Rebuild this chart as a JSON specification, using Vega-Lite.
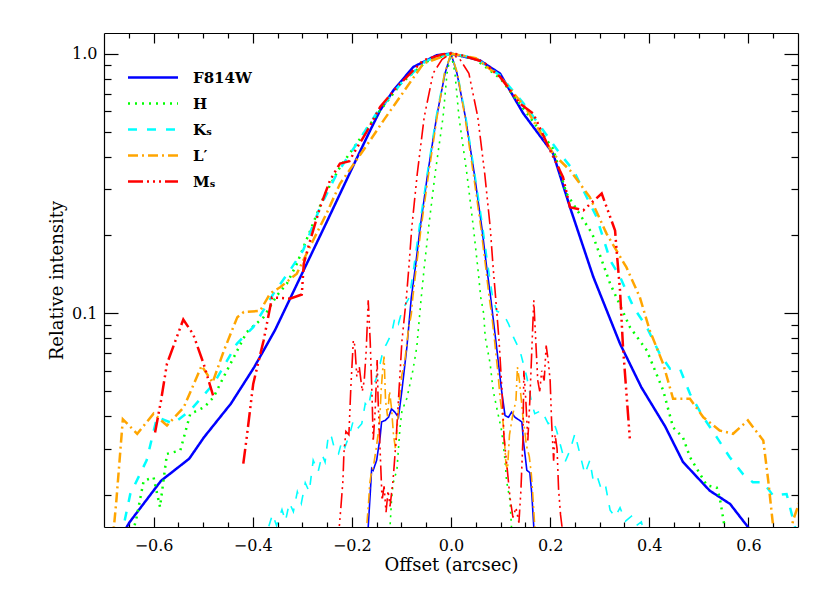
{
  "$schema": "https://vega.github.io/schema/vega-lite/v6.json",
  "width": 694,
  "height": 494,
  "autosize": {"type": "none"},
  "padding": {"left": 104, "top": 33, "right": 32, "bottom": 66},
  "background": "white",
  "config": {
    "view": {"stroke": null},
    "axis": {"grid": false, "zindex": 1, "domainColor": "black", "tickColor": "black", "labelColor": "black", "titleColor": "black", "domainWidth": 1.2, "tickWidth": 1.2, "labelFont": "DejaVu Serif", "labelFontSize": 16, "titleFont": "DejaVu Serif", "titleFontSize": 18, "titleFontWeight": "normal", "labelFlush": false, "labelOverlap": false}
  },
  "datasets": {
    "psf": [
      {"f":"F814W","k":"b","s":"Fb","x":-0.665,"v":0.0138},{"f":"F814W","k":"b","s":"Fb","x":-0.649,"v":0.0156},{"f":"F814W","k":"b","s":"Fb","x":-0.585,"v":0.0226},{"f":"F814W","k":"b","s":"Fb","x":-0.528,"v":0.0275},{"f":"F814W","k":"b","s":"Fb","x":-0.498,"v":0.0333},{"f":"F814W","k":"b","s":"Fb","x":-0.444,"v":0.0448},{"f":"F814W","k":"b","s":"Fb","x":-0.397,"v":0.0619},{"f":"F814W","k":"b","s":"Fb","x":-0.355,"v":0.086},{"f":"F814W","k":"b","s":"Fb","x":-0.291,"v":0.155},{"f":"F814W","k":"b","s":"Fb","x":-0.249,"v":0.228},{"f":"F814W","k":"b","s":"Fb","x":-0.192,"v":0.388},{"f":"F814W","k":"b","s":"Fb","x":-0.163,"v":0.506},{"f":"F814W","k":"b","s":"Fb","x":-0.143,"v":0.604},{"f":"F814W","k":"b","s":"Fb","x":-0.116,"v":0.722},{"f":"F814W","k":"b","s":"Fb","x":-0.076,"v":0.888},{"f":"F814W","k":"b","s":"Fb","x":-0.029,"v":0.985},{"f":"F814W","k":"b","s":"Fb","x":0,"v":1},{"f":"F814W","k":"b","s":"Fb","x":0.058,"v":0.942},{"f":"F814W","k":"b","s":"Fb","x":0.099,"v":0.837},{"f":"F814W","k":"b","s":"Fb","x":0.146,"v":0.587},{"f":"F814W","k":"b","s":"Fb","x":0.206,"v":0.412},{"f":"F814W","k":"b","s":"Fb","x":0.24,"v":0.256},{"f":"F814W","k":"b","s":"Fb","x":0.287,"v":0.138},{"f":"F814W","k":"b","s":"Fb","x":0.341,"v":0.0762},{"f":"F814W","k":"b","s":"Fb","x":0.384,"v":0.0518},{"f":"F814W","k":"b","s":"Fb","x":0.432,"v":0.0366},{"f":"F814W","k":"b","s":"Fb","x":0.468,"v":0.0267},{"f":"F814W","k":"b","s":"Fb","x":0.522,"v":0.0207},{"f":"F814W","k":"b","s":"Fb","x":0.563,"v":0.0184},{"f":"F814W","k":"b","s":"Fb","x":0.599,"v":0.015},{"f":"F814W","k":"b","s":"Fb","x":0.615,"v":0.0135},

      {"f":"F814W","k":"n","s":"Fn","x":-0.171,"v":0.011},{"f":"F814W","k":"n","s":"Fn","x":-0.167,"v":0.015},{"f":"F814W","k":"n","s":"Fn","x":-0.163,"v":0.0201},{"f":"F814W","k":"n","s":"Fn","x":-0.16,"v":0.0252},{"f":"F814W","k":"n","s":"Fn","x":-0.157,"v":0.0248},{"f":"F814W","k":"n","s":"Fn","x":-0.15,"v":0.0271},{"f":"F814W","k":"n","s":"Fn","x":-0.143,"v":0.0333},{"f":"F814W","k":"n","s":"Fn","x":-0.14,"v":0.0381},{"f":"F814W","k":"n","s":"Fn","x":-0.133,"v":0.0386},{"f":"F814W","k":"n","s":"Fn","x":-0.126,"v":0.0397},{"f":"F814W","k":"n","s":"Fn","x":-0.12,"v":0.0428},{"f":"F814W","k":"n","s":"Fn","x":-0.113,"v":0.0415},{"f":"F814W","k":"n","s":"Fn","x":-0.106,"v":0.0397},{"f":"F814W","k":"n","s":"Fn","x":-0.099,"v":0.0504},{"f":"F814W","k":"n","s":"Fn","x":-0.089,"v":0.0739},{"f":"F814W","k":"n","s":"Fn","x":-0.08,"v":0.115},{"f":"F814W","k":"n","s":"Fn","x":-0.072,"v":0.15},{"f":"F814W","k":"n","s":"Fn","x":-0.062,"v":0.215},{"f":"F814W","k":"n","s":"Fn","x":-0.047,"v":0.345},{"f":"F814W","k":"n","s":"Fn","x":-0.029,"v":0.57},{"f":"F814W","k":"n","s":"Fn","x":-0.012,"v":0.84},{"f":"F814W","k":"n","s":"Fn","x":0,"v":1},{"f":"F814W","k":"n","s":"Fn","x":0.012,"v":0.84},{"f":"F814W","k":"n","s":"Fn","x":0.029,"v":0.57},{"f":"F814W","k":"n","s":"Fn","x":0.047,"v":0.345},{"f":"F814W","k":"n","s":"Fn","x":0.062,"v":0.215},{"f":"F814W","k":"n","s":"Fn","x":0.072,"v":0.15},{"f":"F814W","k":"n","s":"Fn","x":0.08,"v":0.115},{"f":"F814W","k":"n","s":"Fn","x":0.092,"v":0.0739},{"f":"F814W","k":"n","s":"Fn","x":0.102,"v":0.0504},{"f":"F814W","k":"n","s":"Fn","x":0.109,"v":0.0403},{"f":"F814W","k":"n","s":"Fn","x":0.116,"v":0.0397},{"f":"F814W","k":"n","s":"Fn","x":0.122,"v":0.0415},{"f":"F814W","k":"n","s":"Fn","x":0.129,"v":0.0397},{"f":"F814W","k":"n","s":"Fn","x":0.143,"v":0.0381},{"f":"F814W","k":"n","s":"Fn","x":0.146,"v":0.0323},{"f":"F814W","k":"n","s":"Fn","x":0.153,"v":0.0248},{"f":"F814W","k":"n","s":"Fn","x":0.159,"v":0.0243},{"f":"F814W","k":"n","s":"Fn","x":0.163,"v":0.0201},{"f":"F814W","k":"n","s":"Fn","x":0.167,"v":0.015},{"f":"F814W","k":"n","s":"Fn","x":0.172,"v":0.011},

      {"f":"H","k":"b","s":"Hb","x":-0.645,"v":0.0135},{"f":"H","k":"b","s":"Hb","x":-0.634,"v":0.0164},{"f":"H","k":"b","s":"Hb","x":-0.62,"v":0.0226},{"f":"H","k":"b","s":"Hb","x":-0.6,"v":0.0233},{"f":"H","k":"b","s":"Hb","x":-0.587,"v":0.0179},{"f":"H","k":"b","s":"Hb","x":-0.573,"v":0.0287},{"f":"H","k":"b","s":"Hb","x":-0.546,"v":0.0296},{"f":"H","k":"b","s":"Hb","x":-0.526,"v":0.0409},{"f":"H","k":"b","s":"Hb","x":-0.498,"v":0.0434},{"f":"H","k":"b","s":"Hb","x":-0.479,"v":0.0474},{"f":"H","k":"b","s":"Hb","x":-0.459,"v":0.0566},{"f":"H","k":"b","s":"Hb","x":-0.412,"v":0.0845},{"f":"H","k":"b","s":"Hb","x":-0.378,"v":0.0965},{"f":"H","k":"b","s":"Hb","x":-0.351,"v":0.117},{"f":"H","k":"b","s":"Hb","x":-0.331,"v":0.13},{"f":"H","k":"b","s":"Hb","x":-0.311,"v":0.155},{"f":"H","k":"b","s":"Hb","x":-0.284,"v":0.208},{"f":"H","k":"b","s":"Hb","x":-0.257,"v":0.28},{"f":"H","k":"b","s":"Hb","x":-0.224,"v":0.365},{"f":"H","k":"b","s":"Hb","x":-0.18,"v":0.48},{"f":"H","k":"b","s":"Hb","x":-0.15,"v":0.58},{"f":"H","k":"b","s":"Hb","x":-0.1,"v":0.77},{"f":"H","k":"b","s":"Hb","x":-0.05,"v":0.93},{"f":"H","k":"b","s":"Hb","x":0,"v":1},{"f":"H","k":"b","s":"Hb","x":0.05,"v":0.95},{"f":"H","k":"b","s":"Hb","x":0.1,"v":0.8},{"f":"H","k":"b","s":"Hb","x":0.15,"v":0.6},{"f":"H","k":"b","s":"Hb","x":0.206,"v":0.43},{"f":"H","k":"b","s":"Hb","x":0.233,"v":0.289},{"f":"H","k":"b","s":"Hb","x":0.285,"v":0.202},{"f":"H","k":"b","s":"Hb","x":0.321,"v":0.13},{"f":"H","k":"b","s":"Hb","x":0.361,"v":0.0883},{"f":"H","k":"b","s":"Hb","x":0.395,"v":0.0718},{"f":"H","k":"b","s":"Hb","x":0.428,"v":0.0504},{"f":"H","k":"b","s":"Hb","x":0.448,"v":0.0363},{"f":"H","k":"b","s":"Hb","x":0.468,"v":0.0332},{"f":"H","k":"b","s":"Hb","x":0.482,"v":0.0279},{"f":"H","k":"b","s":"Hb","x":0.516,"v":0.0217},{"f":"H","k":"b","s":"Hb","x":0.536,"v":0.0213},{"f":"H","k":"b","s":"Hb","x":0.542,"v":0.0195},{"f":"H","k":"b","s":"Hb","x":0.552,"v":0.015},{"f":"H","k":"b","s":"Hb","x":0.56,"v":0.012},

      {"f":"H","k":"n","s":"Hn","x":-0.127,"v":0.012},{"f":"H","k":"n","s":"Hn","x":-0.123,"v":0.015},{"f":"H","k":"n","s":"Hn","x":-0.12,"v":0.019},{"f":"H","k":"n","s":"Hn","x":-0.117,"v":0.022},{"f":"H","k":"n","s":"Hn","x":-0.109,"v":0.025},{"f":"H","k":"n","s":"Hn","x":-0.103,"v":0.036},{"f":"H","k":"n","s":"Hn","x":-0.099,"v":0.042},{"f":"H","k":"n","s":"Hn","x":-0.089,"v":0.047},{"f":"H","k":"n","s":"Hn","x":-0.083,"v":0.053},{"f":"H","k":"n","s":"Hn","x":-0.077,"v":0.06},{"f":"H","k":"n","s":"Hn","x":-0.069,"v":0.074},{"f":"H","k":"n","s":"Hn","x":-0.066,"v":0.086},{"f":"H","k":"n","s":"Hn","x":-0.06,"v":0.115},{"f":"H","k":"n","s":"Hn","x":-0.054,"v":0.15},{"f":"H","k":"n","s":"Hn","x":-0.045,"v":0.215},{"f":"H","k":"n","s":"Hn","x":-0.032,"v":0.345},{"f":"H","k":"n","s":"Hn","x":-0.016,"v":0.57},{"f":"H","k":"n","s":"Hn","x":-0.008,"v":0.84},{"f":"H","k":"n","s":"Hn","x":0,"v":1},{"f":"H","k":"n","s":"Hn","x":0.008,"v":0.84},{"f":"H","k":"n","s":"Hn","x":0.016,"v":0.57},{"f":"H","k":"n","s":"Hn","x":0.032,"v":0.345},{"f":"H","k":"n","s":"Hn","x":0.045,"v":0.215},{"f":"H","k":"n","s":"Hn","x":0.054,"v":0.15},{"f":"H","k":"n","s":"Hn","x":0.06,"v":0.115},{"f":"H","k":"n","s":"Hn","x":0.066,"v":0.0994},{"f":"H","k":"n","s":"Hn","x":0.069,"v":0.0808},{"f":"H","k":"n","s":"Hn","x":0.079,"v":0.0638},{"f":"H","k":"n","s":"Hn","x":0.085,"v":0.0504},{"f":"H","k":"n","s":"Hn","x":0.092,"v":0.0434},{"f":"H","k":"n","s":"Hn","x":0.102,"v":0.0353},{"f":"H","k":"n","s":"Hn","x":0.109,"v":0.0271},{"f":"H","k":"n","s":"Hn","x":0.112,"v":0.0226},{"f":"H","k":"n","s":"Hn","x":0.119,"v":0.019},{"f":"H","k":"n","s":"Hn","x":0.122,"v":0.015},{"f":"H","k":"n","s":"Hn","x":0.126,"v":0.012},

      {"f":"Kₛ","k":"b","s":"Kb","x":-0.668,"v":0.0135},{"f":"Kₛ","k":"b","s":"Kb","x":-0.661,"v":0.015},{"f":"Kₛ","k":"b","s":"Kb","x":-0.647,"v":0.0201},{"f":"Kₛ","k":"b","s":"Kb","x":-0.614,"v":0.0271},{"f":"Kₛ","k":"b","s":"Kb","x":-0.593,"v":0.0398},{"f":"Kₛ","k":"b","s":"Kb","x":-0.56,"v":0.0375},{"f":"Kₛ","k":"b","s":"Kb","x":-0.526,"v":0.0422},{"f":"Kₛ","k":"b","s":"Kb","x":-0.479,"v":0.0534},{"f":"Kₛ","k":"b","s":"Kb","x":-0.432,"v":0.0762},{"f":"Kₛ","k":"b","s":"Kb","x":-0.399,"v":0.0883},{"f":"Kₛ","k":"b","s":"Kb","x":-0.358,"v":0.119},{"f":"Kₛ","k":"b","s":"Kb","x":-0.325,"v":0.146},{"f":"Kₛ","k":"b","s":"Kb","x":-0.298,"v":0.175},{"f":"Kₛ","k":"b","s":"Kb","x":-0.264,"v":0.256},{"f":"Kₛ","k":"b","s":"Kb","x":-0.23,"v":0.345},{"f":"Kₛ","k":"b","s":"Kb","x":-0.19,"v":0.45},{"f":"Kₛ","k":"b","s":"Kb","x":-0.15,"v":0.59},{"f":"Kₛ","k":"b","s":"Kb","x":-0.1,"v":0.77},{"f":"Kₛ","k":"b","s":"Kb","x":-0.05,"v":0.94},{"f":"Kₛ","k":"b","s":"Kb","x":0,"v":1},{"f":"Kₛ","k":"b","s":"Kb","x":0.05,"v":0.96},{"f":"Kₛ","k":"b","s":"Kb","x":0.1,"v":0.82},{"f":"Kₛ","k":"b","s":"Kb","x":0.15,"v":0.63},{"f":"Kₛ","k":"b","s":"Kb","x":0.22,"v":0.411},{"f":"Kₛ","k":"b","s":"Kb","x":0.247,"v":0.355},{"f":"Kₛ","k":"b","s":"Kb","x":0.267,"v":0.297},{"f":"Kₛ","k":"b","s":"Kb","x":0.294,"v":0.234},{"f":"Kₛ","k":"b","s":"Kb","x":0.321,"v":0.16},{"f":"Kₛ","k":"b","s":"Kb","x":0.341,"v":0.138},{"f":"Kₛ","k":"b","s":"Kb","x":0.368,"v":0.1055},{"f":"Kₛ","k":"b","s":"Kb","x":0.395,"v":0.0883},{"f":"Kₛ","k":"b","s":"Kb","x":0.421,"v":0.0697},{"f":"Kₛ","k":"b","s":"Kb","x":0.442,"v":0.061},{"f":"Kₛ","k":"b","s":"Kb","x":0.462,"v":0.061},{"f":"Kₛ","k":"b","s":"Kb","x":0.482,"v":0.0489},{"f":"Kₛ","k":"b","s":"Kb","x":0.509,"v":0.0397},{"f":"Kₛ","k":"b","s":"Kb","x":0.536,"v":0.0333},{"f":"Kₛ","k":"b","s":"Kb","x":0.562,"v":0.0279},{"f":"Kₛ","k":"b","s":"Kb","x":0.589,"v":0.024},{"f":"Kₛ","k":"b","s":"Kb","x":0.609,"v":0.0223},{"f":"Kₛ","k":"b","s":"Kb","x":0.63,"v":0.0223},{"f":"Kₛ","k":"b","s":"Kb","x":0.65,"v":0.0198},{"f":"Kₛ","k":"b","s":"Kb","x":0.677,"v":0.0201},{"f":"Kₛ","k":"b","s":"Kb","x":0.694,"v":0.015},{"f":"Kₛ","k":"b","s":"Kb","x":0.705,"v":0.0125},

      {"f":"Kₛ","k":"n","s":"Kn","x":-0.385,"v":0.013},{"f":"Kₛ","k":"n","s":"Kn","x":-0.368,"v":0.015},{"f":"Kₛ","k":"n","s":"Kn","x":-0.36,"v":0.0168},{"f":"Kₛ","k":"n","s":"Kn","x":-0.352,"v":0.0152},{"f":"Kₛ","k":"n","s":"Kn","x":-0.341,"v":0.0175},{"f":"Kₛ","k":"n","s":"Kn","x":-0.334,"v":0.0158},{"f":"Kₛ","k":"n","s":"Kn","x":-0.326,"v":0.0186},{"f":"Kₛ","k":"n","s":"Kn","x":-0.318,"v":0.0172},{"f":"Kₛ","k":"n","s":"Kn","x":-0.31,"v":0.0205},{"f":"Kₛ","k":"n","s":"Kn","x":-0.302,"v":0.0185},{"f":"Kₛ","k":"n","s":"Kn","x":-0.294,"v":0.0222},{"f":"Kₛ","k":"n","s":"Kn","x":-0.286,"v":0.0205},{"f":"Kₛ","k":"n","s":"Kn","x":-0.278,"v":0.0271},{"f":"Kₛ","k":"n","s":"Kn","x":-0.268,"v":0.0245},{"f":"Kₛ","k":"n","s":"Kn","x":-0.26,"v":0.0285},{"f":"Kₛ","k":"n","s":"Kn","x":-0.254,"v":0.0267},{"f":"Kₛ","k":"n","s":"Kn","x":-0.247,"v":0.0343},{"f":"Kₛ","k":"n","s":"Kn","x":-0.241,"v":0.0333},{"f":"Kₛ","k":"n","s":"Kn","x":-0.234,"v":0.0295},{"f":"Kₛ","k":"n","s":"Kn","x":-0.227,"v":0.0287},{"f":"Kₛ","k":"n","s":"Kn","x":-0.22,"v":0.0322},{"f":"Kₛ","k":"n","s":"Kn","x":-0.214,"v":0.0304},{"f":"Kₛ","k":"n","s":"Kn","x":-0.204,"v":0.0343},{"f":"Kₛ","k":"n","s":"Kn","x":-0.197,"v":0.0386},{"f":"Kₛ","k":"n","s":"Kn","x":-0.187,"v":0.0362},{"f":"Kₛ","k":"n","s":"Kn","x":-0.18,"v":0.0375},{"f":"Kₛ","k":"n","s":"Kn","x":-0.173,"v":0.0448},{"f":"Kₛ","k":"n","s":"Kn","x":-0.167,"v":0.0434},{"f":"Kₛ","k":"n","s":"Kn","x":-0.16,"v":0.0504},{"f":"Kₛ","k":"n","s":"Kn","x":-0.15,"v":0.0566},{"f":"Kₛ","k":"n","s":"Kn","x":-0.143,"v":0.0638},{"f":"Kₛ","k":"n","s":"Kn","x":-0.137,"v":0.0718},{"f":"Kₛ","k":"n","s":"Kn","x":-0.13,"v":0.0762},{"f":"Kₛ","k":"n","s":"Kn","x":-0.12,"v":0.0833},{"f":"Kₛ","k":"n","s":"Kn","x":-0.113,"v":0.0965},{"f":"Kₛ","k":"n","s":"Kn","x":-0.106,"v":0.091},{"f":"Kₛ","k":"n","s":"Kn","x":-0.099,"v":0.102},{"f":"Kₛ","k":"n","s":"Kn","x":-0.084,"v":0.115},{"f":"Kₛ","k":"n","s":"Kn","x":-0.075,"v":0.15},{"f":"Kₛ","k":"n","s":"Kn","x":-0.064,"v":0.215},{"f":"Kₛ","k":"n","s":"Kn","x":-0.048,"v":0.345},{"f":"Kₛ","k":"n","s":"Kn","x":-0.03,"v":0.57},{"f":"Kₛ","k":"n","s":"Kn","x":-0.013,"v":0.84},{"f":"Kₛ","k":"n","s":"Kn","x":0,"v":1},{"f":"Kₛ","k":"n","s":"Kn","x":0.013,"v":0.84},{"f":"Kₛ","k":"n","s":"Kn","x":0.03,"v":0.57},{"f":"Kₛ","k":"n","s":"Kn","x":0.048,"v":0.345},{"f":"Kₛ","k":"n","s":"Kn","x":0.064,"v":0.215},{"f":"Kₛ","k":"n","s":"Kn","x":0.075,"v":0.15},{"f":"Kₛ","k":"n","s":"Kn","x":0.084,"v":0.115},{"f":"Kₛ","k":"n","s":"Kn","x":0.092,"v":0.102},{"f":"Kₛ","k":"n","s":"Kn","x":0.1,"v":0.1},{"f":"Kₛ","k":"n","s":"Kn","x":0.109,"v":0.0965},{"f":"Kₛ","k":"n","s":"Kn","x":0.116,"v":0.091},{"f":"Kₛ","k":"n","s":"Kn","x":0.126,"v":0.0808},{"f":"Kₛ","k":"n","s":"Kn","x":0.139,"v":0.0718},{"f":"Kₛ","k":"n","s":"Kn","x":0.153,"v":0.0566},{"f":"Kₛ","k":"n","s":"Kn","x":0.163,"v":0.0448},{"f":"Kₛ","k":"n","s":"Kn","x":0.169,"v":0.041},{"f":"Kₛ","k":"n","s":"Kn","x":0.183,"v":0.0422},{"f":"Kₛ","k":"n","s":"Kn","x":0.196,"v":0.0375},{"f":"Kₛ","k":"n","s":"Kn","x":0.206,"v":0.0385},{"f":"Kₛ","k":"n","s":"Kn","x":0.213,"v":0.0353},{"f":"Kₛ","k":"n","s":"Kn","x":0.22,"v":0.0314},{"f":"Kₛ","k":"n","s":"Kn","x":0.23,"v":0.0267},{"f":"Kₛ","k":"n","s":"Kn","x":0.24,"v":0.0296},{"f":"Kₛ","k":"n","s":"Kn","x":0.25,"v":0.0343},{"f":"Kₛ","k":"n","s":"Kn","x":0.26,"v":0.0287},{"f":"Kₛ","k":"n","s":"Kn","x":0.27,"v":0.024},{"f":"Kₛ","k":"n","s":"Kn","x":0.28,"v":0.0271},{"f":"Kₛ","k":"n","s":"Kn","x":0.287,"v":0.0226},{"f":"Kₛ","k":"n","s":"Kn","x":0.295,"v":0.0235},{"f":"Kₛ","k":"n","s":"Kn","x":0.304,"v":0.0207},{"f":"Kₛ","k":"n","s":"Kn","x":0.312,"v":0.0215},{"f":"Kₛ","k":"n","s":"Kn","x":0.321,"v":0.0174},{"f":"Kₛ","k":"n","s":"Kn","x":0.331,"v":0.0164},{"f":"Kₛ","k":"n","s":"Kn","x":0.341,"v":0.0178},{"f":"Kₛ","k":"n","s":"Kn","x":0.352,"v":0.0158},{"f":"Kₛ","k":"n","s":"Kn","x":0.364,"v":0.0165},{"f":"Kₛ","k":"n","s":"Kn","x":0.374,"v":0.0152},{"f":"Kₛ","k":"n","s":"Kn","x":0.384,"v":0.0157},{"f":"Kₛ","k":"n","s":"Kn","x":0.4,"v":0.012},

      {"f":"L′","k":"b","s":"Lb","x":-0.69,"v":0.011},{"f":"L′","k":"b","s":"Lb","x":-0.68,"v":0.015},{"f":"L′","k":"b","s":"Lb","x":-0.675,"v":0.019},{"f":"L′","k":"b","s":"Lb","x":-0.662,"v":0.039},{"f":"L′","k":"b","s":"Lb","x":-0.633,"v":0.0343},{"f":"L′","k":"b","s":"Lb","x":-0.6,"v":0.041},{"f":"L′","k":"b","s":"Lb","x":-0.573,"v":0.0369},{"f":"L′","k":"b","s":"Lb","x":-0.539,"v":0.0434},{"f":"L′","k":"b","s":"Lb","x":-0.503,"v":0.0627},{"f":"L′","k":"b","s":"Lb","x":-0.481,"v":0.054},{"f":"L′","k":"b","s":"Lb","x":-0.458,"v":0.0718},{"f":"L′","k":"b","s":"Lb","x":-0.431,"v":0.0965},{"f":"L′","k":"b","s":"Lb","x":-0.418,"v":0.101},{"f":"L′","k":"b","s":"Lb","x":-0.385,"v":0.102},{"f":"L′","k":"b","s":"Lb","x":-0.365,"v":0.119},{"f":"L′","k":"b","s":"Lb","x":-0.344,"v":0.126},{"f":"L′","k":"b","s":"Lb","x":-0.311,"v":0.142},{"f":"L′","k":"b","s":"Lb","x":-0.278,"v":0.191},{"f":"L′","k":"b","s":"Lb","x":-0.251,"v":0.242},{"f":"L′","k":"b","s":"Lb","x":-0.224,"v":0.315},{"f":"L′","k":"b","s":"Lb","x":-0.163,"v":0.463},{"f":"L′","k":"b","s":"Lb","x":-0.136,"v":0.553},{"f":"L′","k":"b","s":"Lb","x":-0.103,"v":0.68},{"f":"L′","k":"b","s":"Lb","x":-0.056,"v":0.915},{"f":"L′","k":"b","s":"Lb","x":0,"v":1},{"f":"L′","k":"b","s":"Lb","x":0.05,"v":0.96},{"f":"L′","k":"b","s":"Lb","x":0.1,"v":0.81},{"f":"L′","k":"b","s":"Lb","x":0.15,"v":0.62},{"f":"L′","k":"b","s":"Lb","x":0.206,"v":0.411},{"f":"L′","k":"b","s":"Lb","x":0.24,"v":0.355},{"f":"L′","k":"b","s":"Lb","x":0.28,"v":0.28},{"f":"L′","k":"b","s":"Lb","x":0.314,"v":0.202},{"f":"L′","k":"b","s":"Lb","x":0.354,"v":0.15},{"f":"L′","k":"b","s":"Lb","x":0.381,"v":0.115},{"f":"L′","k":"b","s":"Lb","x":0.401,"v":0.0857},{"f":"L′","k":"b","s":"Lb","x":0.428,"v":0.0638},{"f":"L′","k":"b","s":"Lb","x":0.448,"v":0.0468},{"f":"L′","k":"b","s":"Lb","x":0.482,"v":0.0468},{"f":"L′","k":"b","s":"Lb","x":0.509,"v":0.0397},{"f":"L′","k":"b","s":"Lb","x":0.542,"v":0.0353},{"f":"L′","k":"b","s":"Lb","x":0.569,"v":0.0343},{"f":"L′","k":"b","s":"Lb","x":0.599,"v":0.0386},{"f":"L′","k":"b","s":"Lb","x":0.63,"v":0.0323},{"f":"L′","k":"b","s":"Lb","x":0.64,"v":0.0226},{"f":"L′","k":"b","s":"Lb","x":0.65,"v":0.015},{"f":"L′","k":"b","s":"Lb","x":0.668,"v":0.009},{"f":"L′","k":"b","s":"Lb","x":0.69,"v":0.0159},{"f":"L′","k":"b","s":"Lb","x":0.712,"v":0.021},

      {"f":"L′","k":"n","s":"Ln","x":-0.172,"v":0.013},{"f":"L′","k":"n","s":"Ln","x":-0.169,"v":0.016},{"f":"L′","k":"n","s":"Ln","x":-0.166,"v":0.019},{"f":"L′","k":"n","s":"Ln","x":-0.164,"v":0.022},{"f":"L′","k":"n","s":"Ln","x":-0.161,"v":0.024},{"f":"L′","k":"n","s":"Ln","x":-0.156,"v":0.026},{"f":"L′","k":"n","s":"Ln","x":-0.15,"v":0.031},{"f":"L′","k":"n","s":"Ln","x":-0.144,"v":0.038},{"f":"L′","k":"n","s":"Ln","x":-0.141,"v":0.05},{"f":"L′","k":"n","s":"Ln","x":-0.138,"v":0.06},{"f":"L′","k":"n","s":"Ln","x":-0.135,"v":0.068},{"f":"L′","k":"n","s":"Ln","x":-0.132,"v":0.046},{"f":"L′","k":"n","s":"Ln","x":-0.128,"v":0.04},{"f":"L′","k":"n","s":"Ln","x":-0.124,"v":0.05},{"f":"L′","k":"n","s":"Ln","x":-0.12,"v":0.043},{"f":"L′","k":"n","s":"Ln","x":-0.116,"v":0.034},{"f":"L′","k":"n","s":"Ln","x":-0.112,"v":0.03},{"f":"L′","k":"n","s":"Ln","x":-0.108,"v":0.038},{"f":"L′","k":"n","s":"Ln","x":-0.104,"v":0.047},{"f":"L′","k":"n","s":"Ln","x":-0.099,"v":0.058},{"f":"L′","k":"n","s":"Ln","x":-0.093,"v":0.066},{"f":"L′","k":"n","s":"Ln","x":-0.086,"v":0.086},{"f":"L′","k":"n","s":"Ln","x":-0.08,"v":0.099},{"f":"L′","k":"n","s":"Ln","x":-0.077,"v":0.115},{"f":"L′","k":"n","s":"Ln","x":-0.07,"v":0.15},{"f":"L′","k":"n","s":"Ln","x":-0.06,"v":0.215},{"f":"L′","k":"n","s":"Ln","x":-0.045,"v":0.345},{"f":"L′","k":"n","s":"Ln","x":-0.028,"v":0.57},{"f":"L′","k":"n","s":"Ln","x":-0.013,"v":0.84},{"f":"L′","k":"n","s":"Ln","x":0,"v":1},{"f":"L′","k":"n","s":"Ln","x":0.013,"v":0.84},{"f":"L′","k":"n","s":"Ln","x":0.028,"v":0.57},{"f":"L′","k":"n","s":"Ln","x":0.045,"v":0.345},{"f":"L′","k":"n","s":"Ln","x":0.06,"v":0.215},{"f":"L′","k":"n","s":"Ln","x":0.07,"v":0.15},{"f":"L′","k":"n","s":"Ln","x":0.077,"v":0.115},{"f":"L′","k":"n","s":"Ln","x":0.082,"v":0.099},{"f":"L′","k":"n","s":"Ln","x":0.088,"v":0.078},{"f":"L′","k":"n","s":"Ln","x":0.095,"v":0.058},{"f":"L′","k":"n","s":"Ln","x":0.099,"v":0.047},{"f":"L′","k":"n","s":"Ln","x":0.104,"v":0.04},{"f":"L′","k":"n","s":"Ln","x":0.108,"v":0.032},{"f":"L′","k":"n","s":"Ln","x":0.111,"v":0.026},{"f":"L′","k":"n","s":"Ln","x":0.114,"v":0.025},{"f":"L′","k":"n","s":"Ln","x":0.118,"v":0.034},{"f":"L′","k":"n","s":"Ln","x":0.125,"v":0.041},{"f":"L′","k":"n","s":"Ln","x":0.131,"v":0.046},{"f":"L′","k":"n","s":"Ln","x":0.134,"v":0.062},{"f":"L′","k":"n","s":"Ln","x":0.138,"v":0.055},{"f":"L′","k":"n","s":"Ln","x":0.142,"v":0.046},{"f":"L′","k":"n","s":"Ln","x":0.145,"v":0.04},{"f":"L′","k":"n","s":"Ln","x":0.149,"v":0.035},{"f":"L′","k":"n","s":"Ln","x":0.152,"v":0.031},{"f":"L′","k":"n","s":"Ln","x":0.158,"v":0.028},{"f":"L′","k":"n","s":"Ln","x":0.162,"v":0.024},{"f":"L′","k":"n","s":"Ln","x":0.165,"v":0.02},{"f":"L′","k":"n","s":"Ln","x":0.169,"v":0.015},{"f":"L′","k":"n","s":"Ln","x":0.172,"v":0.013},

      {"f":"Mₛ","k":"b","s":"Mb","x":-0.419,"v":0.0263},{"f":"Mₛ","k":"b","s":"Mb","x":-0.412,"v":0.0333},{"f":"Mₛ","k":"b","s":"Mb","x":-0.399,"v":0.0534},{"f":"Mₛ","k":"b","s":"Mb","x":-0.378,"v":0.0785},{"f":"Mₛ","k":"b","s":"Mb","x":-0.361,"v":0.115},{"f":"Mₛ","k":"b","s":"Mb","x":-0.325,"v":0.1137},{"f":"Mₛ","k":"b","s":"Mb","x":-0.301,"v":0.118},{"f":"Mₛ","k":"b","s":"Mb","x":-0.297,"v":0.155},{"f":"Mₛ","k":"b","s":"Mb","x":-0.284,"v":0.191},{"f":"Mₛ","k":"b","s":"Mb","x":-0.264,"v":0.256},{"f":"Mₛ","k":"b","s":"Mb","x":-0.244,"v":0.325},{"f":"Mₛ","k":"b","s":"Mb","x":-0.224,"v":0.377},{"f":"Mₛ","k":"b","s":"Mb","x":-0.205,"v":0.385},{"f":"Mₛ","k":"b","s":"Mb","x":-0.197,"v":0.411},{"f":"Mₛ","k":"b","s":"Mb","x":-0.17,"v":0.5},{"f":"Mₛ","k":"b","s":"Mb","x":-0.143,"v":0.623},{"f":"Mₛ","k":"b","s":"Mb","x":-0.109,"v":0.743},{"f":"Mₛ","k":"b","s":"Mb","x":-0.056,"v":0.942},{"f":"Mₛ","k":"b","s":"Mb","x":-0.016,"v":0.995},{"f":"Mₛ","k":"b","s":"Mb","x":0,"v":1},{"f":"Mₛ","k":"b","s":"Mb","x":0.018,"v":0.99},{"f":"Mₛ","k":"b","s":"Mb","x":0.065,"v":0.929},{"f":"Mₛ","k":"b","s":"Mb","x":0.099,"v":0.813},{"f":"Mₛ","k":"b","s":"Mb","x":0.139,"v":0.641},{"f":"Mₛ","k":"b","s":"Mb","x":0.166,"v":0.587},{"f":"Mₛ","k":"b","s":"Mb","x":0.2,"v":0.424},{"f":"Mₛ","k":"b","s":"Mb","x":0.226,"v":0.334},{"f":"Mₛ","k":"b","s":"Mb","x":0.24,"v":0.256},{"f":"Mₛ","k":"b","s":"Mb","x":0.267,"v":0.249},{"f":"Mₛ","k":"b","s":"Mb","x":0.304,"v":0.289},{"f":"Mₛ","k":"b","s":"Mb","x":0.314,"v":0.256},{"f":"Mₛ","k":"b","s":"Mb","x":0.331,"v":0.208},{"f":"Mₛ","k":"b","s":"Mb","x":0.334,"v":0.175},{"f":"Mₛ","k":"b","s":"Mb","x":0.341,"v":0.122},{"f":"Mₛ","k":"b","s":"Mb","x":0.347,"v":0.0739},{"f":"Mₛ","k":"b","s":"Mb","x":0.357,"v":0.041},{"f":"Mₛ","k":"b","s":"Mb","x":0.361,"v":0.0323},

      {"f":"Mₛ","k":"b","s":"Mb2","x":-0.597,"v":0.0347},{"f":"Mₛ","k":"b","s":"Mb2","x":-0.585,"v":0.046},{"f":"Mₛ","k":"b","s":"Mb2","x":-0.573,"v":0.0638},{"f":"Mₛ","k":"b","s":"Mb2","x":-0.54,"v":0.0945},{"f":"Mₛ","k":"b","s":"Mb2","x":-0.52,"v":0.0828},{"f":"Mₛ","k":"b","s":"Mb2","x":-0.499,"v":0.0638},{"f":"Mₛ","k":"b","s":"Mb2","x":-0.48,"v":0.0482},

      {"f":"Mₛ","k":"n","s":"Mn","x":-0.23,"v":0.0128},{"f":"Mₛ","k":"n","s":"Mn","x":-0.226,"v":0.0145},{"f":"Mₛ","k":"n","s":"Mn","x":-0.222,"v":0.018},{"f":"Mₛ","k":"n","s":"Mn","x":-0.218,"v":0.0226},{"f":"Mₛ","k":"n","s":"Mn","x":-0.216,"v":0.029},{"f":"Mₛ","k":"n","s":"Mn","x":-0.212,"v":0.035},{"f":"Mₛ","k":"n","s":"Mn","x":-0.206,"v":0.034},{"f":"Mₛ","k":"n","s":"Mn","x":-0.202,"v":0.052},{"f":"Mₛ","k":"n","s":"Mn","x":-0.197,"v":0.0785},{"f":"Mₛ","k":"n","s":"Mn","x":-0.194,"v":0.075},{"f":"Mₛ","k":"n","s":"Mn","x":-0.19,"v":0.057},{"f":"Mₛ","k":"n","s":"Mn","x":-0.185,"v":0.062},{"f":"Mₛ","k":"n","s":"Mn","x":-0.179,"v":0.05},{"f":"Mₛ","k":"n","s":"Mn","x":-0.175,"v":0.055},{"f":"Mₛ","k":"n","s":"Mn","x":-0.171,"v":0.072},{"f":"Mₛ","k":"n","s":"Mn","x":-0.167,"v":0.112},{"f":"Mₛ","k":"n","s":"Mn","x":-0.163,"v":0.078},{"f":"Mₛ","k":"n","s":"Mn","x":-0.159,"v":0.046},{"f":"Mₛ","k":"n","s":"Mn","x":-0.157,"v":0.032},{"f":"Mₛ","k":"n","s":"Mn","x":-0.153,"v":0.042},{"f":"Mₛ","k":"n","s":"Mn","x":-0.149,"v":0.066},{"f":"Mₛ","k":"n","s":"Mn","x":-0.147,"v":0.046},{"f":"Mₛ","k":"n","s":"Mn","x":-0.143,"v":0.0296},{"f":"Mₛ","k":"n","s":"Mn","x":-0.139,"v":0.019},{"f":"Mₛ","k":"n","s":"Mn","x":-0.135,"v":0.0215},{"f":"Mₛ","k":"n","s":"Mn","x":-0.131,"v":0.0171},{"f":"Mₛ","k":"n","s":"Mn","x":-0.127,"v":0.0207},{"f":"Mₛ","k":"n","s":"Mn","x":-0.123,"v":0.018},{"f":"Mₛ","k":"n","s":"Mn","x":-0.117,"v":0.0226},{"f":"Mₛ","k":"n","s":"Mn","x":-0.111,"v":0.032},{"f":"Mₛ","k":"n","s":"Mn","x":-0.105,"v":0.05},{"f":"Mₛ","k":"n","s":"Mn","x":-0.099,"v":0.078},{"f":"Mₛ","k":"n","s":"Mn","x":-0.09,"v":0.115},{"f":"Mₛ","k":"n","s":"Mn","x":-0.085,"v":0.15},{"f":"Mₛ","k":"n","s":"Mn","x":-0.079,"v":0.215},{"f":"Mₛ","k":"n","s":"Mn","x":-0.068,"v":0.345},{"f":"Mₛ","k":"n","s":"Mn","x":-0.054,"v":0.57},{"f":"Mₛ","k":"n","s":"Mn","x":-0.036,"v":0.84},{"f":"Mₛ","k":"n","s":"Mn","x":-0.018,"v":0.95},{"f":"Mₛ","k":"n","s":"Mn","x":0,"v":1},{"f":"Mₛ","k":"n","s":"Mn","x":0.018,"v":0.95},{"f":"Mₛ","k":"n","s":"Mn","x":0.036,"v":0.84},{"f":"Mₛ","k":"n","s":"Mn","x":0.054,"v":0.57},{"f":"Mₛ","k":"n","s":"Mn","x":0.068,"v":0.345},{"f":"Mₛ","k":"n","s":"Mn","x":0.079,"v":0.215},{"f":"Mₛ","k":"n","s":"Mn","x":0.085,"v":0.15},{"f":"Mₛ","k":"n","s":"Mn","x":0.09,"v":0.115},{"f":"Mₛ","k":"n","s":"Mn","x":0.097,"v":0.078},{"f":"Mₛ","k":"n","s":"Mn","x":0.103,"v":0.05},{"f":"Mₛ","k":"n","s":"Mn","x":0.107,"v":0.033},{"f":"Mₛ","k":"n","s":"Mn","x":0.113,"v":0.0256},{"f":"Mₛ","k":"n","s":"Mn","x":0.119,"v":0.0195},{"f":"Mₛ","k":"n","s":"Mn","x":0.125,"v":0.0163},{"f":"Mₛ","k":"n","s":"Mn","x":0.131,"v":0.0178},{"f":"Mₛ","k":"n","s":"Mn","x":0.137,"v":0.0156},{"f":"Mₛ","k":"n","s":"Mn","x":0.141,"v":0.0207},{"f":"Mₛ","k":"n","s":"Mn","x":0.145,"v":0.0323},{"f":"Mₛ","k":"n","s":"Mn","x":0.147,"v":0.06},{"f":"Mₛ","k":"n","s":"Mn","x":0.151,"v":0.046},{"f":"Mₛ","k":"n","s":"Mn","x":0.155,"v":0.0323},{"f":"Mₛ","k":"n","s":"Mn","x":0.159,"v":0.046},{"f":"Mₛ","k":"n","s":"Mn","x":0.163,"v":0.072},{"f":"Mₛ","k":"n","s":"Mn","x":0.167,"v":0.112},{"f":"Mₛ","k":"n","s":"Mn","x":0.171,"v":0.078},{"f":"Mₛ","k":"n","s":"Mn","x":0.175,"v":0.055},{"f":"Mₛ","k":"n","s":"Mn","x":0.179,"v":0.05},{"f":"Mₛ","k":"n","s":"Mn","x":0.183,"v":0.06},{"f":"Mₛ","k":"n","s":"Mn","x":0.188,"v":0.055},{"f":"Mₛ","k":"n","s":"Mn","x":0.192,"v":0.075},{"f":"Mₛ","k":"n","s":"Mn","x":0.196,"v":0.066},{"f":"Mₛ","k":"n","s":"Mn","x":0.2,"v":0.055},{"f":"Mₛ","k":"n","s":"Mn","x":0.203,"v":0.038},{"f":"Mₛ","k":"n","s":"Mn","x":0.207,"v":0.027},{"f":"Mₛ","k":"n","s":"Mn","x":0.21,"v":0.034},{"f":"Mₛ","k":"n","s":"Mn","x":0.214,"v":0.03},{"f":"Mₛ","k":"n","s":"Mn","x":0.217,"v":0.021},{"f":"Mₛ","k":"n","s":"Mn","x":0.221,"v":0.0167},{"f":"Mₛ","k":"n","s":"Mn","x":0.224,"v":0.015},{"f":"Mₛ","k":"n","s":"Mn","x":0.227,"v":0.0128}
    ]
  },
  "data": {"name": "psf"},
  "resolve": {"axis": {"x": "independent", "y": "independent"}},
  "layer": [
    {
      "mark": {"type": "line", "clip": true, "strokeCap": "butt", "strokeJoin": "miter"},
      "encoding": {
        "x": {"field": "x", "type": "quantitative", "scale": {"domain": [-0.7, 0.7], "nice": false, "zero": false},
          "axis": {"orient": "bottom", "values": [-0.6, -0.4, -0.2, 0, 0.2, 0.4, 0.6], "format": ".1f", "tickSize": -10, "labelPadding": 20, "title": "Offset (arcsec)", "titlePadding": 3, "domain": true}},
        "y": {"field": "v", "type": "quantitative", "scale": {"type": "log", "domain": [0.015, 1.2], "nice": false},
          "axis": {"orient": "left", "values": [0.1, 1], "format": ".1f", "tickSize": -14, "labelPadding": 21, "title": "Relative intensity", "titlePadding": 5, "domain": true}},
        "color": {"field": "f", "type": "nominal",
          "scale": {"domain": ["F814W", "H", "Kₛ", "L′", "Mₛ"], "range": ["#0000ff", "#00ff00", "#00ffff", "#ffa500", "#ff0000"]},
          "legend": {"orient": "none", "legendX": 37.5, "legendY": 33, "title": null, "symbolType": "M-2.5,0H2.5", "symbolSize": 400, "symbolStrokeWidth": 2.5, "labelOffset": 28.5, "rowPadding": 6, "padding": 0, "labelFont": "DejaVu Serif", "labelFontSize": 15, "labelFontWeight": "bold", "labelColor": "black"}},
        "strokeDash": {"field": "f", "type": "nominal",
          "scale": {"domain": ["F814W", "H", "Kₛ", "L′", "Mₛ"], "range": [[1, 0], [2, 5], [9, 10], [10, 4, 2, 4], [15, 4, 2, 4, 2, 4, 2, 4]]},
          "legend": {"orient": "none", "legendX": 37.5, "legendY": 33, "title": null, "symbolType": "M-2.5,0H2.5", "symbolSize": 400, "symbolStrokeWidth": 2.5, "labelOffset": 28.5, "rowPadding": 6, "padding": 0, "labelFont": "DejaVu Serif", "labelFontSize": 15, "labelFontWeight": "bold", "labelColor": "black"}},
        "strokeWidth": {"field": "k", "type": "nominal", "scale": {"domain": ["b", "n"], "range": [2.5, 1.6]}, "legend": null},
        "detail": {"field": "s", "type": "nominal"}
      }
    },
    {
      "mark": {"type": "point", "opacity": 0, "size": 0},
      "encoding": {
        "x": {"field": "x", "type": "quantitative", "scale": {"domain": [-0.7, 0.7], "nice": false, "zero": false},
          "axis": {"orient": "bottom", "values": [-0.65, -0.55, -0.5, -0.45, -0.35, -0.3, -0.25, -0.15, -0.1, -0.05, 0.05, 0.1, 0.15, 0.25, 0.3, 0.35, 0.45, 0.5, 0.55, 0.65], "tickSize": -5, "labels": false, "domain": false, "title": null}},
        "y": {"field": "v", "type": "quantitative", "scale": {"type": "log", "domain": [0.015, 1.2], "nice": false},
          "axis": {"orient": "left", "values": [0.02, 0.03, 0.04, 0.05, 0.06, 0.07, 0.08, 0.09, 0.2, 0.3, 0.4, 0.5, 0.6, 0.7, 0.8, 0.9], "tickSize": -7, "labels": false, "domain": false, "title": null}}
      }
    },
    {
      "mark": {"type": "point", "opacity": 0, "size": 0},
      "encoding": {
        "x": {"field": "x", "type": "quantitative", "scale": {"domain": [-0.7, 0.7], "nice": false, "zero": false},
          "axis": {"orient": "top", "values": [-0.6, -0.4, -0.2, 0, 0.2, 0.4, 0.6], "tickSize": -10, "labels": false, "domain": true, "title": null}},
        "y": {"field": "v", "type": "quantitative", "scale": {"type": "log", "domain": [0.015, 1.2], "nice": false},
          "axis": {"orient": "right", "values": [0.1, 1], "tickSize": -14, "labels": false, "domain": true, "title": null}}
      }
    },
    {
      "mark": {"type": "point", "opacity": 0, "size": 0},
      "encoding": {
        "x": {"field": "x", "type": "quantitative", "scale": {"domain": [-0.7, 0.7], "nice": false, "zero": false},
          "axis": {"orient": "top", "values": [-0.65, -0.55, -0.5, -0.45, -0.35, -0.3, -0.25, -0.15, -0.1, -0.05, 0.05, 0.1, 0.15, 0.25, 0.3, 0.35, 0.45, 0.5, 0.55, 0.65], "tickSize": -5, "labels": false, "domain": false, "title": null}},
        "y": {"field": "v", "type": "quantitative", "scale": {"type": "log", "domain": [0.015, 1.2], "nice": false},
          "axis": {"orient": "right", "values": [0.02, 0.03, 0.04, 0.05, 0.06, 0.07, 0.08, 0.09, 0.2, 0.3, 0.4, 0.5, 0.6, 0.7, 0.8, 0.9], "tickSize": -7, "labels": false, "domain": false, "title": null}}
      }
    }
  ]
}
